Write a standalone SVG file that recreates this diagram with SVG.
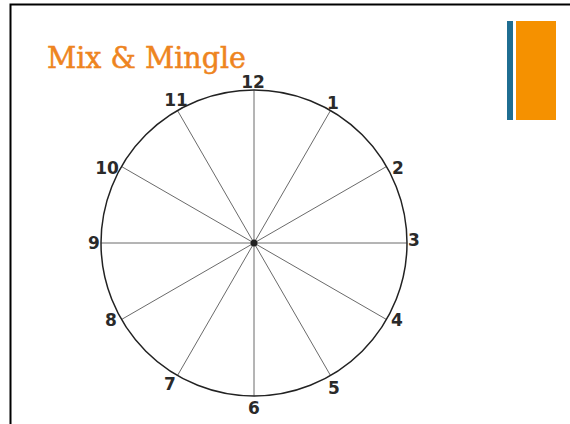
<svg xmlns="http://www.w3.org/2000/svg" width="570" height="424" viewBox="0 0 570 424">
<style>
.num{font-family:"DejaVu Sans",sans-serif;font-weight:bold;font-size:17px;fill:#2a2a2a;text-anchor:middle}
.spoke{stroke:#444;stroke-width:0.8}
</style>
<rect width="570" height="424" fill="#fff"/>
<g id="frame">
<path d="M10.5 424 V4.5 H570" fill="none" stroke="#000" stroke-width="2"/>
</g>
<g id="accent">
<rect x="507" y="21" width="6" height="99" fill="#1f6e92"/>
<rect x="516" y="21" width="40" height="99" fill="#f59100"/>
</g>
<g id="title">
<text x="47" y="68" font-family="'DejaVu Serif',serif" font-size="29" fill="#ee8420" stroke="#ee8420" stroke-width="0.5" textLength="199" lengthAdjust="spacingAndGlyphs">Mix &amp; Mingle</text>
</g>
<g id="connectors">
<line class="spoke" x1="254" y1="243" x2="254" y2="90"/>
<line class="spoke" x1="254" y1="243" x2="330.5" y2="110.5"/>
<line class="spoke" x1="254" y1="243" x2="386.5" y2="166.5"/>
<line class="spoke" x1="254" y1="243" x2="407" y2="243"/>
<line class="spoke" x1="254" y1="243" x2="386.5" y2="319.5"/>
<line class="spoke" x1="254" y1="243" x2="330.5" y2="375.5"/>
<line class="spoke" x1="254" y1="243" x2="254" y2="396"/>
<line class="spoke" x1="254" y1="243" x2="177.5" y2="375.5"/>
<line class="spoke" x1="254" y1="243" x2="121.5" y2="319.5"/>
<line class="spoke" x1="254" y1="243" x2="101" y2="243"/>
<line class="spoke" x1="254" y1="243" x2="121.5" y2="166.5"/>
<line class="spoke" x1="254" y1="243" x2="177.5" y2="110.5"/>
</g>
<g id="clock">
<circle cx="254" cy="243" r="153" fill="none" stroke="#222" stroke-width="1.5"/>
<circle cx="254" cy="243" r="3.5" fill="#222"/>
</g>
<g id="labels">
<text class="num" x="253" y="88">12</text>
<text class="num" x="333" y="109">1</text>
<text class="num" x="398" y="174">2</text>
<text class="num" x="414" y="246">3</text>
<text class="num" x="397" y="326">4</text>
<text class="num" x="334" y="394">5</text>
<text class="num" x="254" y="414">6</text>
<text class="num" x="170" y="390">7</text>
<text class="num" x="111" y="326">8</text>
<text class="num" x="94" y="249">9</text>
<text class="num" x="107" y="174">10</text>
<text class="num" x="176" y="106">11</text>
</g>
</svg>
